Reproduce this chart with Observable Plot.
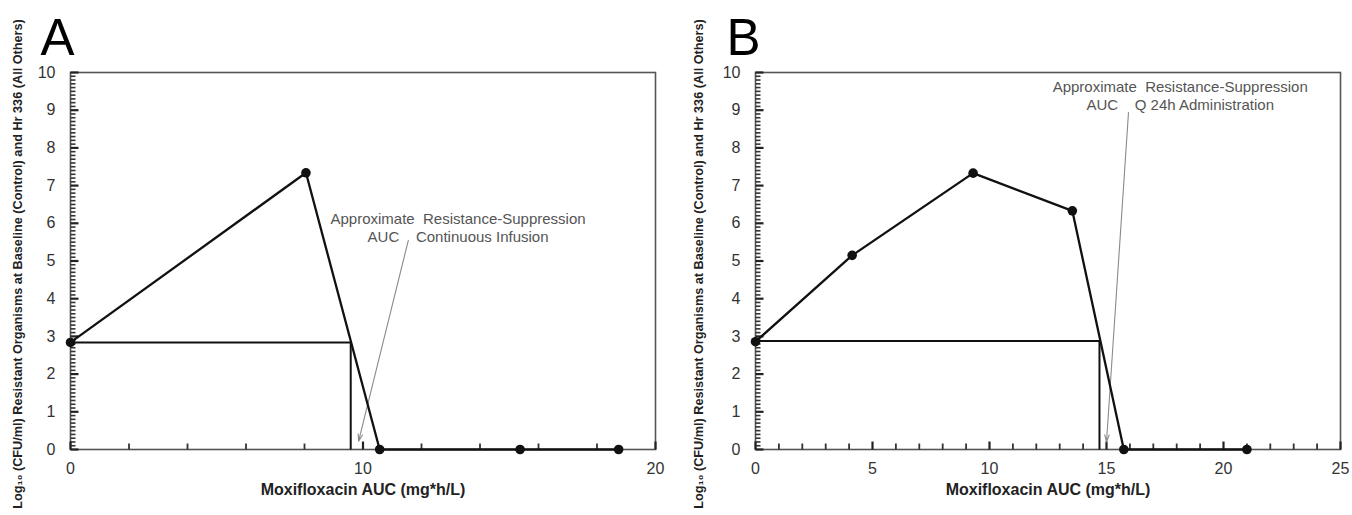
<!DOCTYPE html>
<html><head><meta charset="utf-8">
<script src="https://cdn.jsdelivr.net/npm/d3@7"></script>
<script src="https://cdn.jsdelivr.net/npm/@observablehq/plot@0.6"></script>
<style>
body{margin:0;background:#fff;}
#wrap{position:relative;width:1352px;height:515px;overflow:hidden;}
.panel{position:absolute;top:0;}
</style></head><body>
<div id="wrap"><div id="pa" class="panel" style="left:0"></div><div id="pb" class="panel" style="left:676px"></div></div>
<script>
// Panel A: continuous infusion
const aucA = [0, 8.05, 10.57, 15.37, 18.74];
const cfuA = [2.84, 7.34, 0, 0, 0];
// Panel B: Q 24h administration
const aucB = [0, 4.13, 9.3, 13.54, 15.74, 21.0];
const cfuB = [2.86, 5.15, 7.33, 6.33, 0, 0];
// resistance-suppression AUC guide (baseline level, AUC)
const guideA = {auc: 9.58, cfu: 2.84};
const guideB = {auc: 14.7, cfu: 2.88};
// tick labels
const yTicks = [0, 1, 2, 3, 4, 5, 6, 7, 8, 9, 10];
const xTicksA = [0, 10, 20];
const xTicksB = [0, 5, 10, 15, 20, 25];
// annotation texts
const noteA = ["Approximate\u00a0\u00a0Resistance-Suppression", "AUC\u00a0\u00a0\u00a0\u00a0Continuous Infusion"];
const noteB = ["Approximate\u00a0\u00a0Resistance-Suppression", "AUC\u00a0\u00a0\u00a0\u00a0Q 24h Administration"];
const yLabel = "Log\u2081\u2080 (CFU/ml) Resistant Organisms at Baseline (Control) and Hr 336 (All Others)";
const xLabel = "Moxifloxacin AUC (mg*h/L)";

const FONT = "'Liberation Sans', Arial, sans-serif";
const W = 676, H = 515, MT = 72, MB = 66;

function range(a, b, s) { const out = []; for (let i = 0; a + i * s <= b + 1e-9; i++) out.push(Math.round((a + i * s) * 1000) / 1000); return out; }

function panel(o) {
  const data = o.auc.map((x, i) => ({x, y: o.cfu[i]}));
  // tick lengths: pixels converted to data units of each scale
  const ux = o.xMax / (W - o.marginLeft - o.marginRight);
  const uy = 10 / (H - MT - MB);
  const yMinorT = range(0, 10, 0.1).filter(v => Math.abs(v - Math.round(v)) > 1e-6).map(v => ({v, len: 5 * ux}));
  const yMajorT = yTicks.map(v => ({v, len: 8 * ux}));
  const xMinorT = range(0, o.xMax, o.xStep).filter(v => !o.xTicks.includes(v)).map(v => ({v, len: 6 * uy}));
  const xMajorT = o.xTicks.map(v => ({v, len: 8 * uy}));
  return Plot.plot({
    width: W, height: H,
    marginLeft: o.marginLeft, marginRight: o.marginRight, marginTop: MT, marginBottom: MB,
    style: {fontFamily: FONT, background: "#fff"},
    x: {domain: [0, o.xMax]},
    y: {domain: [0, 10]},
    marks: [
      // tick labels
      Plot.axisY(yTicks, {anchor: "left", tickSize: 0, tickPadding: 15, fontSize: 16, fill: "#333", label: null}),
      Plot.axisX(o.xTicks, {anchor: "bottom", tickSize: 0, tickPadding: 13, fontSize: 16, fill: "#333", label: null}),
      Plot.frame({stroke: "#555", strokeWidth: 1.6, fill: "none"}),
      // inward ticks
      Plot.link(yMinorT, {x1: 0, x2: "len", y1: "v", y2: "v", stroke: "#333", strokeWidth: 1.6}),
      Plot.link(yMajorT, {x1: 0, x2: "len", y1: "v", y2: "v", stroke: "#222", strokeWidth: 2.2}),
      Plot.link(xMinorT, {x1: "v", x2: "v", y1: 0, y2: "len", stroke: "#333", strokeWidth: 1.8}),
      Plot.link(xMajorT, {x1: "v", x2: "v", y1: 0, y2: "len", stroke: "#222", strokeWidth: 2.2}),
      // guide lines
      Plot.link([o.guide], {x1: 0, y1: "cfu", x2: "auc", y2: "cfu", stroke: "#111", strokeWidth: 2}),
      Plot.link([o.guide], {x1: "auc", y1: 0, x2: "auc", y2: "cfu", stroke: "#111", strokeWidth: 2}),
      // arrow annotation
      Plot.arrow([o.arrow], {x1: "x1", y1: "y1", x2: "x2", y2: "y2", stroke: "#8a8a8a", strokeWidth: 1.1, headLength: 10, headAngle: 35}),
      Plot.text([o.noteXY], {x: "x", y: "y1", text: () => o.note[0], fontSize: 15, fill: "#555", textAnchor: "middle"}),
      Plot.text([o.noteXY], {x: "x", y: "y2", text: () => o.note[1], fontSize: 15, fill: "#555", textAnchor: "middle"}),
      // data
      Plot.line(data, {x: "x", y: "y", stroke: "#111", strokeWidth: 2.3}),
      Plot.dot(data, {x: "x", y: "y", r: 4.8, fill: "#111"}),
      // labels
      Plot.text([xLabel], {text: d => d, frameAnchor: "bottom", dy: 45, fontSize: 16, fontWeight: "bold", fill: "#222"}),
      Plot.text([yLabel], {text: d => d, frameAnchor: "left", textAnchor: "middle", dx: o.yLabelDx, dy: 3, rotate: -90, fontSize: 12.7, fontWeight: "bold", fill: "#222"}),
      Plot.text([o.letter], {text: d => d, frameAnchor: "top-left", dx: o.letterDx, dy: -18, fontSize: 51, fill: "#000", textAnchor: "start", lineAnchor: "bottom"})
    ]
  });
}

document.getElementById("pa").append(panel({
  auc: aucA, cfu: cfuA, xMax: 20, xStep: 2, xTicks: xTicksA, guide: guideA,
  arrow: {x1: 11.55, y1: 5.55, x2: 9.85, y2: 0.22},
  noteXY: {x: 13.25, y1: 6.1, y2: 5.64}, note: noteA,
  marginLeft: 70, marginRight: 21, yLabelDx: -53, letter: "A", letterDx: -30
}));
document.getElementById("pb").append(panel({
  auc: aucB, cfu: cfuB, xMax: 25, xStep: 1, xTicks: xTicksB, guide: guideB,
  arrow: {x1: 15.94, y1: 8.94, x2: 15.0, y2: 0.2},
  noteXY: {x: 18.15, y1: 9.6, y2: 9.13}, note: noteB,
  marginLeft: 79, marginRight: 12, yLabelDx: -57, letter: "B", letterDx: -29
}));
</script></body></html>
